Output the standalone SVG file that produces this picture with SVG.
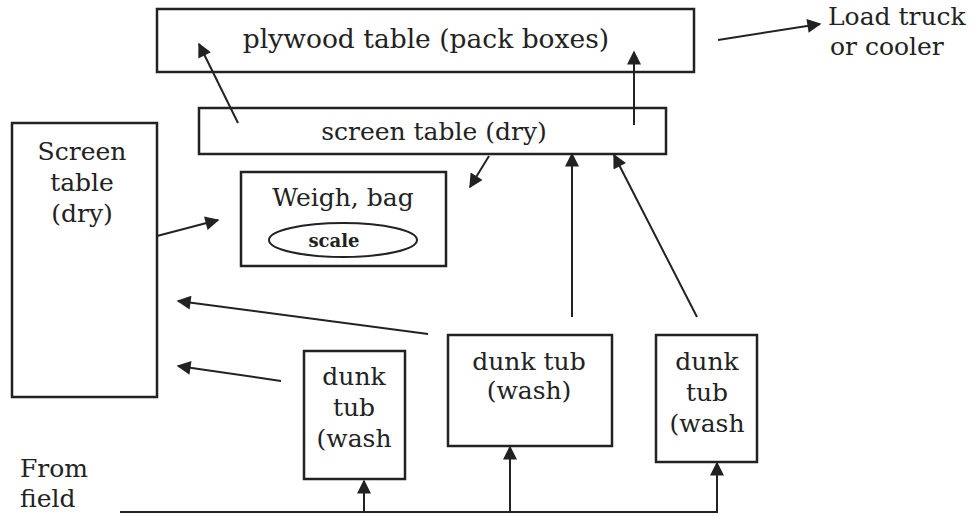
<svg xmlns="http://www.w3.org/2000/svg" width="976" height="516" viewBox="0 0 976 516">
<style>
.box{fill:none;stroke:#222;stroke-width:2.5}
.t{font-family:"DejaVu Serif","Liberation Serif",serif;font-size:25px;fill:#222;text-anchor:middle}
.c{stroke:#222;stroke-width:2;fill:none}
</style>
<defs>
<marker id="ahl" viewBox="0 0 10 10" refX="9" refY="5" markerWidth="19" markerHeight="14" orient="auto" markerUnits="userSpaceOnUse">
<path d="M0,0 L10,5 L0,10 z" fill="#222"/>
</marker>
</defs>
<rect width="976" height="516" fill="#fff"/>
<g id="plywood">
<rect class="box" x="157" y="9" width="537" height="63"/>
<text class="t" x="426" y="48" style="font-size:26.5px">plywood table (pack boxes)</text>
</g>
<g id="screen-top">
<rect class="box" x="199" y="108" width="467" height="46"/>
<text class="t" x="434" y="140">screen table (dry)</text>
</g>
<g id="screen-left">
<rect class="box" x="12" y="123" width="145" height="274"/>
<text class="t" x="82" y="160">Screen</text>
<text class="t" x="82" y="191">table</text>
<text class="t" x="82" y="222">(dry)</text>
</g>
<g id="weigh">
<rect class="box" x="241" y="172" width="205" height="94"/>
<text class="t" x="343" y="206">Weigh, bag</text>
<ellipse cx="343" cy="240" rx="74" ry="17" fill="none" stroke="#222" stroke-width="2"/>
<text class="t" x="334" y="247" style="font-size:18px;font-weight:bold">scale</text>
</g>
<g id="tub1">
<rect class="box" x="304" y="351" width="101" height="128"/>
<text class="t" x="354" y="385">dunk</text>
<text class="t" x="354" y="416">tub</text>
<text class="t" x="354" y="447">(wash</text>
</g>
<g id="tub2">
<rect class="box" x="448" y="335" width="164" height="111"/>
<text class="t" x="529" y="370">dunk tub</text>
<text class="t" x="529" y="399">(wash)</text>
</g>
<g id="tub3">
<rect class="box" x="656" y="335" width="101" height="127"/>
<text class="t" x="707" y="370">dunk</text>
<text class="t" x="707" y="401">tub</text>
<text class="t" x="707" y="432">(wash</text>
</g>
<g id="load">
<text class="t" x="828" y="25" style="text-anchor:start">Load truck</text>
<text class="t" x="830" y="55" style="text-anchor:start">or cooler</text>
</g>
<g id="field">
<text class="t" x="20" y="477" style="text-anchor:start">From</text>
<text class="t" x="20" y="507" style="text-anchor:start">field</text>
</g>
<g id="connectors">
<line class="c" x1="238" y1="123" x2="199" y2="44" marker-end="url(#ahl)"/>
<line class="c" x1="634" y1="125" x2="634" y2="52" marker-end="url(#ahl)"/>
<line class="c" x1="718" y1="40" x2="820" y2="24" marker-end="url(#ahl)"/>
<line class="c" x1="157" y1="236" x2="218" y2="220" marker-end="url(#ahl)"/>
<line class="c" x1="489" y1="156" x2="470" y2="187" marker-end="url(#ahl)"/>
<line class="c" x1="572" y1="317" x2="572" y2="154" marker-end="url(#ahl)"/>
<line class="c" x1="697" y1="317" x2="614" y2="155" marker-end="url(#ahl)"/>
<line class="c" x1="428" y1="334" x2="178" y2="301" marker-end="url(#ahl)"/>
<line class="c" x1="281" y1="381" x2="178" y2="366" marker-end="url(#ahl)"/>
<line class="c" x1="120" y1="512" x2="718" y2="512" stroke-width="2.5"/>
<line class="c" x1="364" y1="512" x2="364" y2="481" marker-end="url(#ahl)"/>
<line class="c" x1="510" y1="512" x2="510" y2="447" stroke-width="3" marker-end="url(#ahl)"/>
<line class="c" x1="717" y1="512" x2="717" y2="463" marker-end="url(#ahl)"/>
</g>
</svg>
